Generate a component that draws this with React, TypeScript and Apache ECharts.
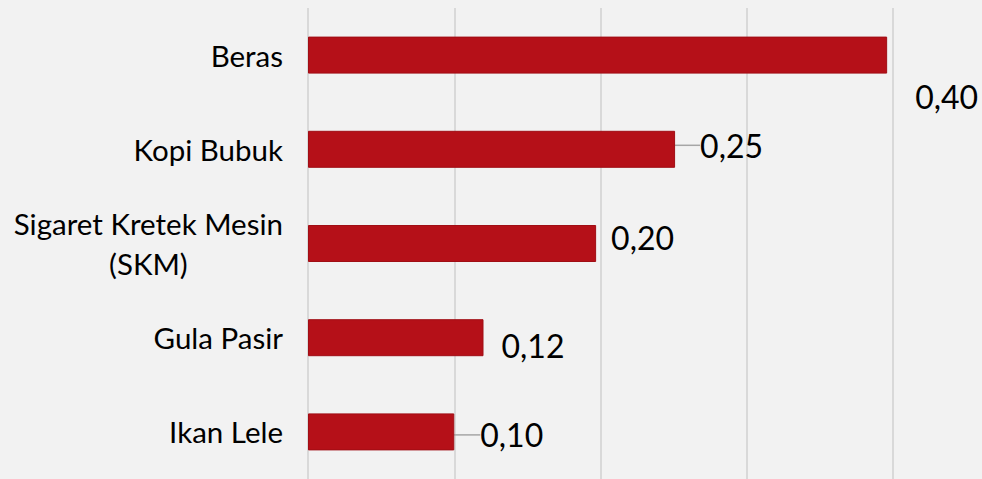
import React, { useEffect, useRef } from "react";
import * as echarts from "echarts";

const categories = ["Beras", "Kopi Bubuk", "Sigaret Kretek Mesin\n(SKM)", "Gula Pasir", "Ikan Lele"];
const values = [0.396, 0.251, 0.197, 0.12, 0.1];
const leaderLineShown = [false, true, false, false, true];
// label displacement (pixels) relative to default "right" position
const labelShiftX = [23, 20, 10, 13, 21];
const labelShiftY = [41, -4, -6, 8, 3];

export default function App() {
  const ref = useRef<HTMLDivElement>(null);
  useEffect(() => {
    document.body.style.margin = "0";
    const chart = echarts.init(ref.current!, null, { renderer: "svg" });
    chart.setOption({
      animation: false,
      backgroundColor: "#f2f2f2",
      textStyle: { fontFamily: "Lato" },
      grid: { left: 308, top: 8, width: 585, height: 474, containLabel: false },
      xAxis: {
        type: "value",
        min: 0,
        max: 0.4,
        interval: 0.1,
        axisLabel: { show: false },
        axisLine: { show: false },
        axisTick: { show: false },
        splitLine: { show: true, lineStyle: { color: "#d9d9d9", width: 2 } },
      },
      yAxis: {
        type: "category",
        inverse: true,
        data: categories,
        axisLine: { show: false },
        axisTick: { show: false },
        axisLabel: {
          margin: 25,
          color: "#000",
          fontFamily: "Lato",
          fontSize: 29.5,
          lineHeight: 40,
          align: "right",
          formatter: (v: string) =>
            v.includes("\n") ? v.split("\n").map((s) => `{c|${s}}`).join("\n") : v,
          rich: {
            c: {
              align: "center",
              color: "#000",
              fontFamily: "Lato",
              fontSize: 29.5,
              lineHeight: 40,
            },
          },
        },
      },
      series: [
        {
          type: "bar",
          barWidth: 37,
          data: values.map((v, i) => ({
            value: v,
            labelLine: {
              show: leaderLineShown[i],
              lineStyle: { color: "#a6a6a6", width: 1.5 },
            },
          })),
          itemStyle: { color: "#b51018", borderColor: "#a00e15", borderWidth: 1 },
          label: {
            show: true,
            position: "right",
            color: "#000",
            fontFamily: "Lato",
            fontSize: 32,
            formatter: (p: any) => Number(p.value).toFixed(2).replace(".", ","),
          },
          labelLayout: (p: any) => ({ dx: labelShiftX[p.dataIndex], dy: labelShiftY[p.dataIndex] }),
        },
      ],
    });
    return () => chart.dispose();
  }, []);
  return <div ref={ref} style={{ width: 982, height: 479, position: "fixed", left: 0, top: 0 }} />;
}
